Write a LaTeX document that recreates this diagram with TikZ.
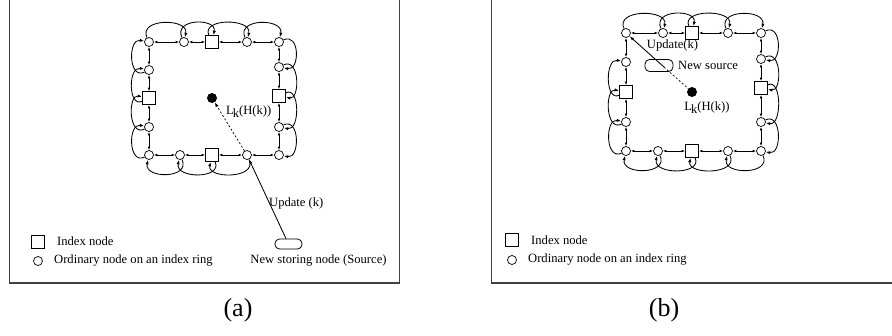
\documentclass[tikz,border=0pt]{standalone}
\usepackage{fontspec}
\setmainfont{Liberation Serif}
\usetikzlibrary{arrows.meta}
\begin{document}
\begin{tikzpicture}[x=1pt,y=1pt,
  ordnode/.style={circle,draw,fill=white,inner sep=0pt,minimum size=9pt,line width=0.7pt},
  idxnode/.style={rectangle,draw,fill=white,inner sep=0pt,minimum size=13pt,line width=0.7pt},
  keydot/.style={circle,fill=black,inner sep=0pt,minimum size=10pt},
  srcbox/.style={rectangle,rounded corners=4.5pt,draw,inner sep=0pt,line width=0.8pt},
  link/.style={line width=0.9pt,{Latex[length=3.5pt,width=2.6pt]}-{Latex[length=3.5pt,width=2.6pt]}},
  hop/.style={line width=0.85pt,-{Latex[length=4.5pt,width=3.2pt]}},
  frame/.style={line width=1.1pt,draw=black!75},
  lbl/.style={font=\fontsize{12.6}{14}\selectfont,inner sep=0pt},
  captext/.style={font=\fontsize{26}{28}\selectfont,inner sep=0pt}]
\useasboundingbox (0,0) rectangle (892,-335);
\clip (0,0) rectangle (892,-335);

% ---------------- panel (a) ----------------
\draw[frame] (9.5,10) rectangle (399.5,-283);
% ring, clockwise from the top-left corner
\node[ordnode] (A1)  at (149,-42) {};
\node[ordnode] (A2)  at (184,-42) {};
\node[idxnode] (A3)  at (212,-42) {};
\node[ordnode] (A4)  at (247,-42) {};
\node[ordnode] (A5)  at (279,-42) {};
\node[ordnode] (A6)  at (279,-67) {};
\node[idxnode] (A7)  at (279,-96) {};
\node[ordnode] (A8)  at (279,-127) {};
\node[ordnode] (A9)  at (279,-155) {};
\node[ordnode] (A10) at (247,-155) {};
\node[idxnode] (A11) at (212,-155) {};
\node[ordnode] (A12) at (180,-155) {};
\node[ordnode] (A13) at (149,-155) {};
\node[ordnode] (A14) at (149,-127) {};
\node[idxnode] (A15) at (149,-98) {};
\node[ordnode] (A16) at (149,-70) {};
\foreach \u/\v in {A1/A2,A2/A3,A3/A4,A4/A5,A5/A6,A6/A7,A7/A8,A8/A9,
                   A9/A10,A10/A11,A11/A12,A12/A13,A13/A14,A14/A15,A15/A16,A16/A1}
  \draw[link] (\u) -- (\v);
% outer hops, clockwise
\foreach \u/\v in {A1/A2,A2/A3,A3/A4,A4/A5}
  \draw[hop] (\u) .. controls +(-11,24) and +(5,24) .. (\v);
\foreach \u/\v in {A5/A6,A6/A7,A7/A8,A8/A9}
  \draw[hop] (\u) .. controls +(21,10) and +(21,-4) .. (\v);
\foreach \u/\v in {A10/A11,A11/A12,A12/A13}
  \draw[hop] (\u) .. controls +(11,-24) and +(-5,-24) .. (\v);
\foreach \u/\v in {A13/A14,A14/A15,A15/A16,A16/A1}
  \draw[hop] (\u) .. controls +(-21,-10) and +(-21,4) .. (\v);
% key location and the storing node
\node[keydot] (Ka) at (212,-98) {};
\node[lbl,anchor=west] (La) at (226,-112) {L\kern-1pt\raisebox{-3pt}{k}(H(k))};
\node[srcbox,minimum width=27pt,minimum height=10pt] (Sa) at (288.5,-244) {};
\draw[hop] (Sa) -- (A10);
\draw[hop,dashed,dash pattern=on 2pt off 2pt,line width=0.7pt] (A10) -- (Ka);
\node[lbl,anchor=west] (Ua) at (269,-203) {Update (k)};
\node[lbl] (Na) at (318.5,-260) {New storing node (Source)};
% legend
\node[idxnode] (LIa) at (38,-242) {};
\node[lbl,anchor=west] (LIta) at (57,-241) {Index node};
\node[ordnode] (LOa) at (38,-261) {};
\node[lbl,anchor=west] (LOta) at (54,-260) {Ordinary node on an index ring};
\node[captext] (Ca) at (238,-310) {(a)};

% ---------------- panel (b) ----------------
\draw[frame] (491.5,10) rectangle (900,-283);
\node[ordnode] (B1)  at (626,-33) {};
\node[ordnode] (B2)  at (663,-33) {};
\node[idxnode] (B3)  at (692,-33) {};
\node[ordnode] (B4)  at (728,-33) {};
\node[ordnode] (B5)  at (761,-33) {};
\node[ordnode] (B6)  at (761,-59) {};
\node[idxnode] (B7)  at (761,-88) {};
\node[ordnode] (B8)  at (761,-122) {};
\node[ordnode] (B9)  at (761,-151) {};
\node[ordnode] (B10) at (728,-151) {};
\node[idxnode] (B11) at (692,-151) {};
\node[ordnode] (B12) at (658,-151) {};
\node[ordnode] (B13) at (626,-151) {};
\node[ordnode] (B14) at (626,-122) {};
\node[idxnode] (B15) at (626,-92) {};
\node[ordnode] (B16) at (626,-62) {};
\foreach \u/\v in {B1/B2,B2/B3,B3/B4,B4/B5,B5/B6,B6/B7,B7/B8,B8/B9,
                   B9/B10,B10/B11,B11/B12,B12/B13,B13/B14,B14/B15,B15/B16,B16/B1}
  \draw[link] (\u) -- (\v);
\foreach \u/\v in {B1/B2,B2/B3,B3/B4,B4/B5}
  \draw[hop] (\u) .. controls +(-11,24) and +(5,24) .. (\v);
\foreach \u/\v in {B5/B6,B6/B7,B7/B8,B8/B9}
  \draw[hop] (\u) .. controls +(21,10) and +(21,-4) .. (\v);
\foreach \u/\v in {B9/B10,B10/B11,B11/B12,B12/B13}
  \draw[hop] (\u) .. controls +(11,-24) and +(-5,-24) .. (\v);
\foreach \u/\v in {B13/B14,B14/B15,B15/B16}
  \draw[hop] (\u) .. controls +(-21,-10) and +(-21,4) .. (\v);
% key location and the new source
\node[keydot] (Kb) at (692,-92) {};
\node[lbl] (Lb) at (707,-108) {L\kern-1pt\raisebox{-3pt}{k}(H(k))};
\node[srcbox,minimum width=28pt,minimum height=12pt] (Sb) at (659,-65.5) {};
\coordinate (Sbin) at (664,-67);
\draw[hop] (Sbin) -- (B1);
\draw[dashed,dash pattern=on 2pt off 2pt,line width=0.7pt] (Sbin) -- (Kb);
\node[lbl] (Ub) at (672.5,-45) {Update(k)};
\node[lbl,anchor=west] (Nb) at (678,-65) {New source};
% legend
\node[idxnode] (LIb) at (512,-240) {};
\node[lbl,anchor=west] (LItb) at (531,-240) {Index node};
\node[ordnode] (LOb) at (512,-260) {};
\node[lbl,anchor=west] (LOtb) at (528,-259) {Ordinary node on an index ring};
\node[captext] (Cb) at (664,-310) {(b)};
\end{tikzpicture}
\end{document}
